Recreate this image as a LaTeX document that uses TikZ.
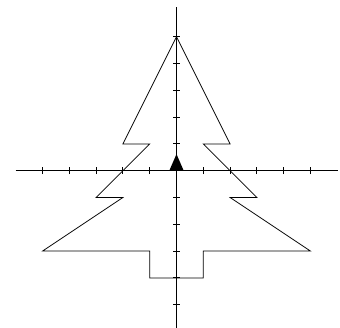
\documentclass[tikz,border=0pt]{standalone}
\begin{document}
\begin{tikzpicture}[x=26.8pt,y=26.8pt,
  axisline/.style={line width=1pt,black},
  tickline/.style={line width=1pt,black},
  treeline/.style={line width=0.75pt,black,line join=miter},
  turtle/.style={fill=black,draw=none}]
\useasboundingbox (-6.586,-5.832) rectangle (6.101,6.370);
% axes
\coordinate (xl) at (-6,0); \coordinate (xr) at (6.03,0);
\coordinate (yb) at (0,-6); \coordinate (yt) at (0,6.1);
\draw[axisline] (xl) -- (xr);
\draw[axisline] (yb) -- (yt);
\foreach \i in {-5,...,-1,1,2,3,4,5} {
  \draw[tickline] (\i,-0.13) -- (\i,0.13);
  \draw[tickline] (-0.13,\i) -- (0.13,\i);
}
% tree
\coordinate (t0) at (0,5);
\coordinate (l1) at (-2,1); \coordinate (l2) at (-1,1);
\coordinate (l3) at (-3,-1); \coordinate (l4) at (-2,-1);
\coordinate (l5) at (-5,-3); \coordinate (l6) at (-1,-3);
\coordinate (l7) at (-1,-4); \coordinate (r7) at (1,-4);
\coordinate (r6) at (1,-3); \coordinate (r5) at (5,-3);
\coordinate (r4) at (2,-1); \coordinate (r3) at (3,-1);
\coordinate (r2) at (1,1); \coordinate (r1) at (2,1);
\draw[treeline] (t0) -- (l1) -- (l2) -- (l3) -- (l4) -- (l5) -- (l6) -- (l7)
  -- (r7) -- (r6) -- (r5) -- (r4) -- (r3) -- (r2) -- (r1) -- cycle;
% turtle
\fill[turtle] (-0.27,0) -- (0.27,0) -- (0,0.62) -- cycle;
\end{tikzpicture}
\end{document}
